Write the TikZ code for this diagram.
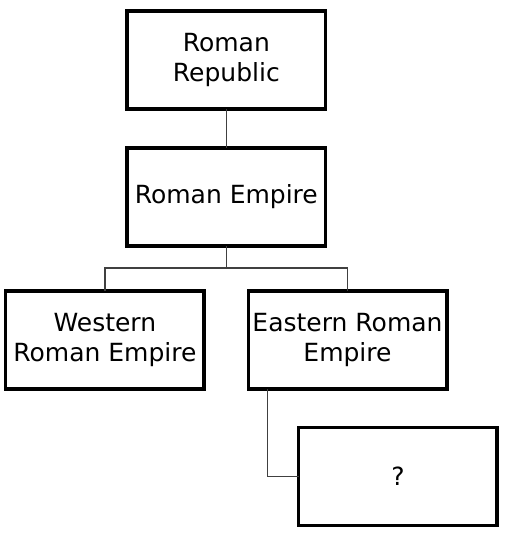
\documentclass[tikz,border=0pt]{standalone}
\usepackage{fontspec}
\setmainfont{DejaVu Sans}
\begin{document}
\begin{tikzpicture}[x=1pt,y=-1pt,
  box/.style={draw=black, line width=3.5pt, fill=white, minimum width=198.5pt, minimum height=98pt,
    inner sep=0pt, outer sep=0pt, align=center, font=\fontsize{25}{30}\selectfont},
  link/.style={draw=black!75, line width=1.3pt}]
\useasboundingbox (0,0) rectangle (509,534);
\node[box] (rep) at (226.3,60) {Roman\\Republic};
\node[box] (emp) at (226.3,197) {Roman Empire};
\node[box] (west) at (104.9,340) {Western\\Roman Empire};
\node[box] (east) at (347.5,340) {Eastern Roman\\Empire};
\node[box] (q) at (397.9,476.7) {?};
\coordinate (j) at (226.3,268);
\coordinate (ek) at ([xshift=19.3pt]east.south west);
\draw[link] (rep.south) -- (emp.north);
\draw[link] (emp.south) -- (j);
\draw[link] (west.north) |- (j) -| (east.north);
\draw[link] (ek) |- (q.west);
\end{tikzpicture}
\end{document}
